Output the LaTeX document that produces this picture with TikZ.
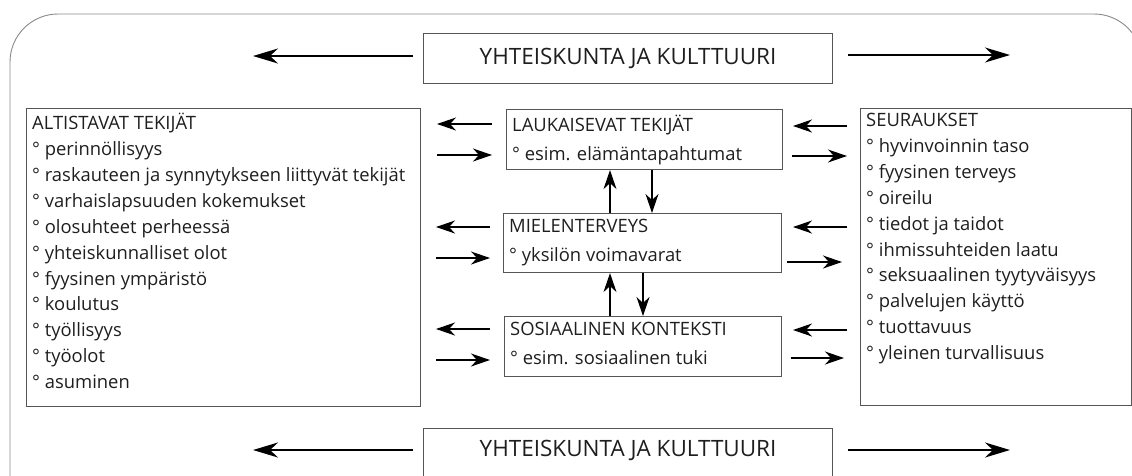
\documentclass[tikz,border=0pt]{standalone}
\usepackage{fontspec}
\setmainfont{Open Sans}
\usetikzlibrary{arrows.meta}
\definecolor{txtc}{HTML}{1E1E1E}
\definecolor{boxc}{HTML}{555555}
\definecolor{framec}{HTML}{8A8A8A}
\tikzset{
  boxn/.style={draw=boxc, line width=1.1pt, rectangle, inner sep=0pt, anchor=north west},
  txt/.style={anchor=north west, inner sep=0pt, align=left, text=txtc,
     font=\fontsize{18.4}{25.9}\selectfont},
  ttl/.style={inner sep=0pt, text=txtc, font=\fontsize{22.5}{26}\selectfont},
  arr/.style={-{Stealth[length=19pt,width=13pt,inset=6pt]}, line width=1.1pt, black},
  bigarr/.style={-{Stealth[length=25pt,width=15pt,inset=8pt]}, line width=1.8pt, black},
}
\begin{document}
\begin{tikzpicture}[x=1pt,y=-1pt]
\useasboundingbox (0,0) rectangle (1132,475);
\begin{scope}
\clip (0,0) rectangle (1132,475);
\draw[framec, line width=0.9pt, rounded corners=48pt] (10,530) -- (10,14) -- (1142,14) -- (1142,530);
% top and bottom boxes
\node[boxn, minimum width=409, minimum height=50] (top) at (423,33) {};
\node[ttl] (topT) at (top.center) {YHTEISKUNTA JA KULTTUURI};
\node[boxn, minimum width=409, minimum height=60] (bot) at (423,428) {};
\node[ttl] (botT) at ([yshift=-22pt]bot.north) {YHTEISKUNTA JA KULTTUURI};
\coordinate (tl1) at (413,56); \coordinate (tl2) at (253,56);
\coordinate (tr1) at (848,55); \coordinate (tr2) at (1010,55);
\draw[bigarr] (tl1) -- (tl2);
\draw[bigarr] (tr1) -- (tr2);
\coordinate (bl1) at (413,450); \coordinate (bl2) at (253,450);
\coordinate (br1) at (848,450); \coordinate (br2) at (1010,450);
\draw[bigarr] (bl1) -- (bl2);
\draw[bigarr] (br1) -- (br2);
\end{scope}
% left box
\node[boxn, minimum width=394, minimum height=298] (alt) at (26,108) {};
\node[txt] (altT) at ([xshift=6pt,yshift=-5pt]alt.north west) {ALTISTAVAT TEKIJÄT\\
° perinnöllisyys\\
° raskauteen ja synnytykseen liittyvät tekijät\\
° varhaislapsuuden kokemukset\\
° olosuhteet perheessä\\
° yhteiskunnalliset olot\\
° fyysinen ympäristö\\
° koulutus\\
° työllisyys\\
° työolot\\
° asuminen};
% right box
\node[boxn, minimum width=271, minimum height=297] (seu) at (860,108) {};
\node[txt] (seuT) at ([xshift=6pt,yshift=-5pt]seu.north west) {SEURAUKSET\\
° hyvinvoinnin taso\\
° fyysinen terveys\\
° oireilu\\
° tiedot ja taidot\\
° ihmissuhteiden laatu\\
° seksuaalinen tyytyväisyys\\
° palvelujen käyttö\\
° tuottavuus\\
° yleinen turvallisuus};
% middle boxes
\node[boxn, minimum width=276, minimum height=60] (lau) at (506,109) {};
\node[txt] (lauT) at ([xshift=6pt,yshift=-6pt]lau.north west) {LAUKAISEVAT TEKIJÄT\\[3pt]° esim. elämäntapahtumat};
\node[boxn, minimum width=278, minimum height=59] (mie) at (503,213) {};
\node[txt] (mieT) at ([xshift=6pt,yshift=-6pt]mie.north west) {MIELENTERVEYS\\[3pt]° yksilön voimavarat};
\node[boxn, minimum width=277, minimum height=60] (sos) at (504,316) {};
\node[txt] (sosT) at ([xshift=6pt,yshift=-6pt]sos.north west) {SOSIAALINEN KONTEKSTI\\[3pt]° esim. sosiaalinen tuki};
% vertical arrows
\draw[arr] (mie.north -| 610,0) -- (lau.south -| 610,0);
\draw[arr] (lau.south -| 652,0) -- (mie.north -| 652,0);
\draw[arr] (sos.north -| 610,0) -- (mie.south -| 610,0);
\draw[arr] (mie.south -| 643,0) -- (sos.north -| 643,0);
% left side arrows
\coordinate (a1) at (492,124); \coordinate (a2) at (437,124);
\coordinate (a3) at (437,155); \coordinate (a4) at (492,155);
\coordinate (b1) at (490,227); \coordinate (b2) at (436,227);
\coordinate (b3) at (436,258); \coordinate (b4) at (490,258);
\coordinate (c1) at (490,329); \coordinate (c2) at (436,329);
\coordinate (c3) at (436,360); \coordinate (c4) at (490,360);
\draw[arr] (a1) -- (a2); \draw[arr] (a3) -- (a4);
\draw[arr] (b1) -- (b2); \draw[arr] (b3) -- (b4);
\draw[arr] (c1) -- (c2); \draw[arr] (c3) -- (c4);
% right side arrows
\coordinate (d1) at (847,126); \coordinate (d2) at (793,126);
\coordinate (d3) at (792,156); \coordinate (d4) at (847,156);
\coordinate (e1) at (847,227); \coordinate (e2) at (793,227);
\coordinate (e3) at (787,262); \coordinate (e4) at (842,262);
\coordinate (f1) at (847,330); \coordinate (f2) at (793,330);
\coordinate (f3) at (791,358); \coordinate (f4) at (844,358);
\draw[arr] (d1) -- (d2); \draw[arr] (d3) -- (d4);
\draw[arr] (e1) -- (e2); \draw[arr] (e3) -- (e4);
\draw[arr] (f1) -- (f2); \draw[arr] (f3) -- (f4);
\end{tikzpicture}
\end{document}
